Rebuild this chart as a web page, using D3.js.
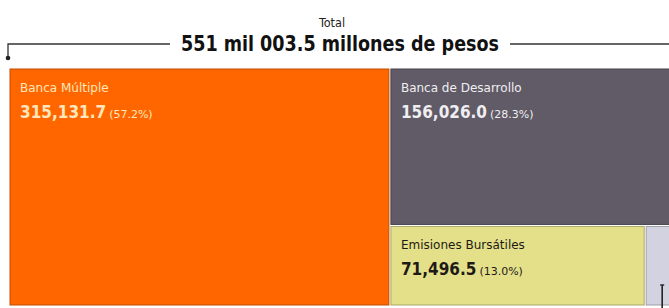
<!DOCTYPE html>
<html><head><meta charset="utf-8">
<script src="https://cdn.jsdelivr.net/npm/d3@7"></script>
<style>
html,body{margin:0;padding:0;background:#fff;}
svg{display:block;}
text{font-family:"DejaVu Sans","Liberation Sans",sans-serif;}
.cond{font-family:"DejaVu Sans Condensed","Liberation Sans Narrow","Arial Narrow",sans-serif;}
</style></head><body>
<svg id="c" width="669" height="308"></svg>
<script>
const totalLabel = "Total";
const totalValueLabel = "551 mil 003.5 millones de pesos";
const categories = ["Banca Múltiple", "Banca de Desarrollo", "Emisiones Bursátiles", "Otros"];
const values = [315131.7, 156026.0, 71496.5, 8349.3];
const valueLabels = ["315,131.7", "156,026.0", "71,496.5", "8,349.3"];
const shareLabels = ["(57.2%)", "(28.3%)", "(13.0%)", "(1.5%)"];
const colors = ["#ff6600", "#605b66", "#e4e08a", "#d2d2e0"];
const textColors = ["#ffe6bb", "#f0eef2", "#1e1a16", "#1e1a16"];
const showLabel = [true, true, true, false];

const svg = d3.select("#c");

function nest(i){
  if (i === values.length - 1) return {name: categories[i], idx: i, value: values[i]};
  return {name: "grupo" + i, children: [{name: categories[i], idx: i, value: values[i]}, nest(i + 1)]};
}
const root = d3.hierarchy(nest(0)).sum(d => d.value || 0);

d3.treemap()
  .tile(d3.treemapSliceDice)
  .size([664, 236])
  .paddingInner(2)
  .round(false)(root);

const g = svg.append("g").attr("transform", "translate(10,69)");
const leaves = root.leaves();

g.selectAll("rect").data(leaves).join("rect")
  .attr("x", d => d.x0).attr("y", d => d.y0)
  .attr("width", d => d.x1 - d.x0).attr("height", d => d.y1 - d.y0)
  .attr("fill", d => colors[d.data.idx])
  .attr("stroke", d => d3.color(colors[d.data.idx]).darker(0.8))
  .attr("stroke-width", 1);

const lab = g.selectAll("g.lab").data(leaves.filter(d => showLabel[d.data.idx])).join("g")
  .attr("class", "lab")
  .attr("transform", d => `translate(${d.x0 + 10},${d.y0})`);

lab.append("text")
  .attr("y", 23)
  .attr("font-size", 12)
  .attr("fill", d => textColors[d.data.idx])
  .text(d => d.data.name);

const vt = lab.append("text")
  .attr("y", 49)
  .attr("fill", d => textColors[d.data.idx]);
vt.append("tspan").attr("class", "cond").attr("font-size", 17).attr("font-weight", "bold").text(d => valueLabels[d.data.idx]);
vt.append("tspan").attr("font-size", 11).attr("dx", 3).text(d => shareLabels[d.data.idx]);

// small leader mark in the last (clipped) cell
const last = leaves[leaves.length - 1];
g.append("line")
  .attr("x1", last.x0 + 16).attr("x2", last.x0 + 16)
  .attr("y1", last.y1 - 20).attr("y2", last.y1 + 4)
  .attr("stroke", "#222").attr("stroke-width", 1.6);
g.append("line")
  .attr("x1", last.x0 + 14).attr("x2", last.x0 + 18)
  .attr("y1", last.y1 - 20).attr("y2", last.y1 - 20)
  .attr("stroke", "#222").attr("stroke-width", 1.4);

// title
const cx = 340;
svg.append("text").attr("class", "cond").attr("x", cx - 8).attr("y", 27).attr("text-anchor", "middle")
  .attr("font-size", 12.5).attr("fill", "#222").text(totalLabel);
svg.append("text").attr("class", "cond").attr("x", cx).attr("y", 51).attr("text-anchor", "middle")
  .attr("font-size", 22).attr("font-weight", "bold").attr("fill", "#111")
  .attr("textLength", 318).attr("lengthAdjust", "spacingAndGlyphs")
  .text(totalValueLabel);
const x0t = cx - 159, x1t = cx + 159;
svg.append("path")
  .attr("d", `M${x0t - 11},44 H8 V58`)
  .attr("fill", "none").attr("stroke", "#333").attr("stroke-width", 1.3);
svg.append("circle").attr("cx", 8).attr("cy", 58).attr("r", 2.3).attr("fill", "#222");
svg.append("path")
  .attr("d", `M${x1t + 11},44 H${10 + 664 - 2}`)
  .attr("fill", "none").attr("stroke", "#333").attr("stroke-width", 1.3);
</script>
</body></html>
